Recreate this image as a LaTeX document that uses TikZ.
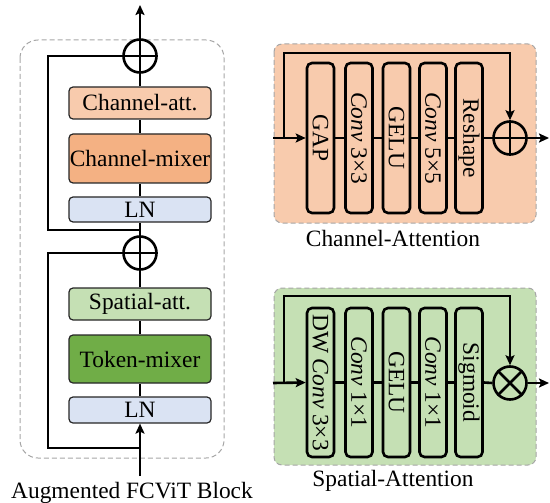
\documentclass[tikz,border=0pt]{standalone}
\usepackage{fontspec}
\setmainfont{Liberation Serif}
\usetikzlibrary{arrows.meta}
\definecolor{catt}{HTML}{F8CBAD}
\definecolor{cmix}{HTML}{F4B183}
\definecolor{lnc}{HTML}{DAE3F3}
\definecolor{satt}{HTML}{C5E0B4}
\definecolor{tmix}{HTML}{70AD47}
\definecolor{cafill}{HTML}{F8CBAD}
\definecolor{safill}{HTML}{C5E0B4}
\definecolor{dashgray}{HTML}{A6A6A6}
\begin{document}
\begin{tikzpicture}[x=1bp,y=-1bp,
  every node/.style={font=\fontsize{23.4bp}{27bp}\selectfont},
  main/.style={line width=2.6bp},
  lbox/.style={draw=black!85, line width=1.2bp, rounded corners=4bp, minimum width=142bp, inner sep=0pt},
  vbox/.style={draw, line width=2.6bp, rounded corners=5bp, minimum width=27bp, minimum height=150bp, inner sep=0pt},
  panel/.style={draw=dashgray, line width=1bp, dash pattern=on 5bp off 3bp},
  opcirc/.style={circle, draw, line width=2.6bp, minimum size=33bp, inner sep=0pt},
  arr/.style={-{Stealth[length=10bp,width=9bp,inset=2bp]}},
  lbl/.style={anchor=base, inner sep=0pt}
]
\useasboundingbox (0,0) rectangle (550,503);

% ---------- left block ----------
\draw[panel, rounded corners=18bp] (20,40) rectangle (224,458);
\node[opcirc] (p1) at (140,56) {};
\node[lbox, fill=catt, minimum height=32bp] (catt) at (140,103) {Channel-att.};
\node[lbox, fill=cmix, minimum height=49bp] (cmix) at (140,158.5) {Channel-mixer};
\node[lbox, fill=lnc, minimum height=25bp] (ln1) at (140,209.5) {LN};
\node[opcirc] (p2) at (140,253) {};
\node[lbox, fill=satt, minimum height=32bp] (satt) at (140,304) {Spatial-att.};
\node[lbox, fill=tmix, minimum height=48bp] (tmix) at (140,359) {Token-mixer};
\node[lbox, fill=lnc, minimum height=26bp] (ln2) at (140,410) {LN};
\coordinate (topout) at (140,5);
\coordinate (botin) at (140,476);
\coordinate (s1) at (140,230);
\coordinate (s2) at (140,448);

\draw[main, arr] (p1.north) -- (topout);
\draw[main] (catt.north) -- (p1.south);
\draw[main] (cmix.north) -- (catt.south);
\draw[main] (ln1.north) -- (cmix.south);
\draw[main] (p2.north) -- (ln1.south);
\draw[main] (satt.north) -- (p2.south);
\draw[main] (tmix.north) -- (satt.south);
\draw[main] (ln2.north) -- (tmix.south);
\draw[main, arr] (botin) -- (ln2.south);
\draw[main] (s1) -- ++(-92,0) |- (p1.west);
\draw[main] (s2) -- ++(-92,0) |- (p2.west);
\draw[main] (p1.north) -- (p1.south) (p1.west) -- (p1.east);
\draw[main] (p2.north) -- (p2.south) (p2.west) -- (p2.east);
\node[lbl] (blk) at (132,498) {Augmented FCViT Block};

% ---------- channel attention ----------
\draw[panel, fill=cafill, rounded corners=8bp] (274,44) rectangle (536,223);
\node[vbox] (gap) at (320.5,138) {\rotatebox{-90}{GAP}};
\node[vbox] (c33) at (359,138) {\rotatebox{-90}{\textit{Conv} 3×3}};
\node[vbox] (gelu1) at (396.5,138) {\rotatebox{-90}{GELU}};
\node[vbox] (c55) at (433,138) {\rotatebox{-90}{\textit{Conv} 5×5}};
\node[vbox] (resh) at (469,138) {\rotatebox{-90}{Reshape}};
\node[opcirc] (cap) at (510,138) {};
\coordinate (cain) at (273,138);
\coordinate (caskip) at (284,138);
\coordinate (caout) at (549,138);
\draw[main, arr] (cain) -- (gap.west);
\draw[main] (gap.east) -- (c33.west);
\draw[main] (c33.east) -- (gelu1.west);
\draw[main] (gelu1.east) -- (c55.west);
\draw[main] (c55.east) -- (resh.west);
\draw[main] (resh.east) -- (cap.west);
\draw[main, arr] (caskip) -- (284,53) -| (cap.north);
\draw[main, arr] (cap.east) -- (caout);
\draw[main] (cap.north) -- (cap.south) (cap.west) -- (cap.east);
\node[lbl] (calbl) at (393,246) {Channel-Attention};

% ---------- spatial attention ----------
\draw[panel, fill=safill, rounded corners=8bp] (274,288) rectangle (536,465);
\node[vbox, minimum height=149bp] (dw) at (320.5,382.5) {\rotatebox{-90}{DW \textit{Conv} 3×3}};
\node[vbox, minimum height=149bp] (c11a) at (359,382.5) {\rotatebox{-90}{\textit{Conv} 1×1}};
\node[vbox, minimum height=149bp] (gelu2) at (396.5,382.5) {\rotatebox{-90}{GELU}};
\node[vbox, minimum height=149bp] (c11b) at (433,382.5) {\rotatebox{-90}{\textit{Conv} 1×1}};
\node[vbox, minimum height=149bp] (sig) at (469,382.5) {\rotatebox{-90}{Sigmoid}};
\node[opcirc] (sam) at (510,383) {};
\coordinate (sain) at (273,383);
\coordinate (saskip) at (284,383);
\coordinate (saout) at (549,383);
\draw[main, arr] (sain) -- (dw.west);
\draw[main] (dw.east) -- (c11a.west);
\draw[main] (c11a.east) -- (gelu2.west);
\draw[main] (gelu2.east) -- (c11b.west);
\draw[main] (c11b.east) -- (sig.west);
\draw[main] (sig.east) -- (sam.west);
\draw[main, arr] (saskip) -- (284,296) -| (sam.north);
\draw[main, arr] (sam.east) -- (saout);
\draw[main] (sam.north west) -- (sam.south east) (sam.north east) -- (sam.south west);
\node[lbl] (salbl) at (393,486) {Spatial-Attention};
\end{tikzpicture}
\end{document}
